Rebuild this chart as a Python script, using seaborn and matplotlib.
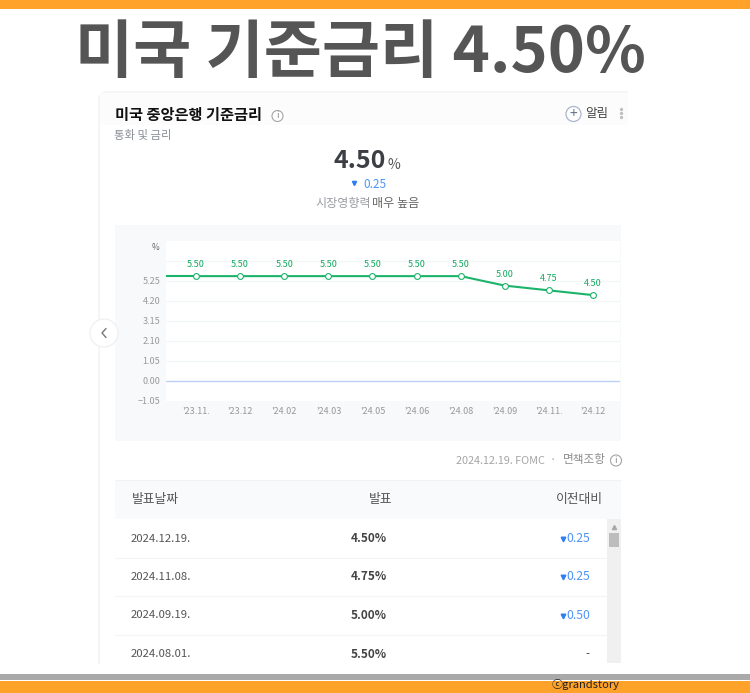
import matplotlib
matplotlib.use("Agg")
import matplotlib.pyplot as plt
from matplotlib.patches import Circle, FancyBboxPatch, Rectangle
import pandas as pd
import seaborn as sns

# chart data
months = ["'23.11.", "'23.12", "'24.02", "'24.03", "'24.05", "'24.06", "'24.08", "'24.09", "'24.11.", "'24.12"]
rates = [5.50, 5.50, 5.50, 5.50, 5.50, 5.50, 5.50, 5.00, 4.75, 4.50]
y_ticks = [-1.05, 0.00, 1.05, 2.10, 3.15, 4.20, 5.25, 6.30]
y_labels = ["−1.05", "0.00", "1.05", "2.10", "3.15", "4.20", "5.25", ""]

# table data
dates = ["2024.12.19.", "2024.11.08.", "2024.09.19.", "2024.08.01."]
announced = ["4.50%", "4.75%", "5.00%", "5.50%"]
changes = ["0.25", "0.25", "0.50", "-"]

sns.set_theme(style="white")
plt.rcParams['font.family'] = ['Noto Sans CJK KR', 'DejaVu Sans']

ORANGE = "#ffa229"
GREEN = "#1cb36a"
BLUE = "#4f94f7"

fig = plt.figure(figsize=(7.5, 6.93), dpi=100, facecolor="white")

# background layer in pixel coordinates
bg = fig.add_axes([0, 0, 1, 1], zorder=0)
bg.set_xlim(0, 750)
bg.set_ylim(693, 0)
bg.axis("off")


def rect(x0, y0, x1, y1, color, **kw):
    bg.add_patch(Rectangle((x0, y0), x1 - x0, y1 - y0, facecolor=color, edgecolor="none", **kw))


def info_icon(x, y, r=5.5):
    bg.add_patch(Circle((x, y), r, facecolor="white", edgecolor="#a5a5a5", lw=0.8))
    bg.text(x, y, "i", ha="center", va="center", fontsize=6.5, color="#888888")


# card first, everything else covers its overflow
bg.add_patch(FancyBboxPatch((99, 92), 560, 700, boxstyle="round,pad=0,rounding_size=8",
                            facecolor="white", edgecolor="#f1f2f4", lw=1))
rect(100, 93, 628, 125, "#fcfcfd")
rect(628, 88, 750, 673, "white")
rect(90, 664, 660, 693, "white")

rect(0, 0, 750, 9, ORANGE)
rect(0, 674, 750, 680, "#a9a9a9")
rect(0, 681, 750, 693, ORANGE)
bg.text(360, 53, "미국 기준금리 4.50%", ha="center", va="center", fontsize=45.5, fontweight="bold", color="#555555")

bg.text(115, 115, "미국 중앙은행 기준금리", ha="left", va="center", fontsize=11, fontweight="bold", color="#111111")
info_icon(277.5, 116)
bg.text(114, 135, "통화 및 금리", ha="left", va="center", fontsize=8.2, color="#8a8f96")
bg.add_patch(Circle((573.5, 114), 7.5, facecolor="white", edgecolor="#a9b6cc", lw=0.9))
bg.text(573.5, 114, "+", ha="center", va="center", fontsize=10, color="#66738a")
bg.text(585, 114, "알림", ha="left", va="center", fontsize=9, color="#444444")
bg.plot([621, 621, 621], [109, 113, 117], ls="none", marker="o", ms=1.4, color="#c0c0c0")

bg.text(360, 161, "4.50", ha="center", va="center", fontsize=18, fontweight="bold", color="#3c3f44")
bg.text(388, 165, "%", ha="left", va="center", fontsize=10, color="#555555")
bg.plot([354], [183], marker="v", ms=3, color="#2f7df0", ls="none")
bg.text(363, 184, "0.25", ha="left", va="center", fontsize=8.5, color=BLUE)
bg.text(315, 203, "시장영향력", ha="left", va="center", fontsize=8.7, color="#9a9da2")
bg.text(372.5, 203, "매우 높음", ha="left", va="center", fontsize=8.7, color="#666666")

# chart panel
rect(115, 225, 621, 441, "#f8f9fb")
bg.text(155, 248, "%", ha="center", va="center", fontsize=6, color="#666666")

# left nav button
bg.add_patch(Circle((104, 333), 14, facecolor="white", edgecolor="#f0f1f3", lw=1, zorder=5))
bg.plot([106, 102, 106], [328.5, 333, 337.5], color="#777777", lw=1, zorder=6)

# line chart
left, right, top, bottom = 166, 620, 241, 400.5
ax = fig.add_axes([left / 750, 1 - bottom / 693, (right - left) / 750, (bottom - top) / 693], zorder=2)
ax.set_facecolor("white")
df = pd.DataFrame({"month": months, "rate": rates})
x_pos = list(range(len(months)))
sns.lineplot(x=x_pos, y=df["rate"], ax=ax, color=GREEN, lw=1.5, zorder=3, errorbar=None)
ax.plot(x_pos, rates, ls="none", marker="o", ms=4.2, mfc="white", mec=GREEN, mew=0.8, zorder=4, clip_on=False)
ax.plot([-0.68, 0], [rates[0], rates[0]], color=GREEN, lw=1.5, zorder=3)
ax.set_xlim(-0.68, 9.61)
ax.set_ylim(-1.05, 7.35)
ax.set_xlabel("")
ax.set_ylabel("")
ax.set_xticks(x_pos)
ax.set_xticklabels(months, fontsize=6.5, color="#999999")
ax.set_yticks(y_ticks)
ax.set_yticklabels(y_labels, fontsize=6.5, color="#999999")
ax.tick_params(axis="both", length=0, pad=4)
ax.tick_params(axis="x", pad=5)
for tick in y_ticks[2:]:
    ax.axhline(tick, color="#f4f5f7", lw=1, zorder=1)
ax.axhline(0, color="#bcd0f5", lw=1, zorder=1)
for spine in ax.spines.values():
    spine.set_visible(False)
for xp, val in zip(x_pos, rates):
    ax.annotate(f"{val:.2f}", (xp, val), xytext=(0, 5), textcoords="offset points",
                ha="center", va="bottom", fontsize=6.5, color="#12a860", zorder=5)

# source line
bg.text(456, 461, "2024.12.19. FOMC", ha="left", va="center", fontsize=7.8, color="#a5a5a5")
bg.text(553, 460, "·", ha="center", va="center", fontsize=8, color="#a5a5a5")
bg.text(563, 460, "면책조항", ha="left", va="center", fontsize=8.4, color="#8f8f8f")
info_icon(616, 460.5, 5.5)

# table
rect(115, 480, 621, 518.5, "#f9fafb")
bg.plot([115, 621], [480, 480], color="#f1f2f4", lw=0.8)
bg.text(132, 499.5, "발표날짜", ha="left", va="center", fontsize=9.2, color="#555555")
bg.text(380.5, 499.5, "발표", ha="center", va="center", fontsize=9.2, color="#555555")
bg.text(603, 499.5, "이전대비", ha="right", va="center", fontsize=9.2, color="#555555")

row_h = 38.5
row_y0 = 538.5
for i in range(len(dates)):
    y = row_y0 + i * row_h
    bg.text(131, y, dates[i], ha="left", va="center", fontsize=8.2, color="#555555")
    bg.text(369, y, announced[i], ha="center", va="center", fontsize=8.5, fontweight="bold", color="#444444")
    if changes[i] == "-":
        bg.text(587.5, y, changes[i], ha="center", va="center", fontsize=8.5, color="#555555")
    else:
        bg.text(590.5, y, changes[i], ha="right", va="center", fontsize=8.8, color=BLUE)
        bg.plot([563], [y], marker="v", ms=3.3, color="#2f7df0", ls="none")
    if i < len(dates) - 1:
        bg.plot([115, 607], [y + row_h / 2, y + row_h / 2], color="#f3f4f5", lw=0.8)

# scrollbar
rect(607, 519, 621, 663, "#f0f0f0")
rect(609, 533, 619, 547, "#bdbdbd")
bg.plot([614], [526.5], marker="^", ms=3, color="#a8a8a8", ls="none")

bg.text(552, 685, "ⓒgrandstory", ha="left", va="center", fontsize=8, color="#222222")

fig.savefig("out.png", dpi=100)
